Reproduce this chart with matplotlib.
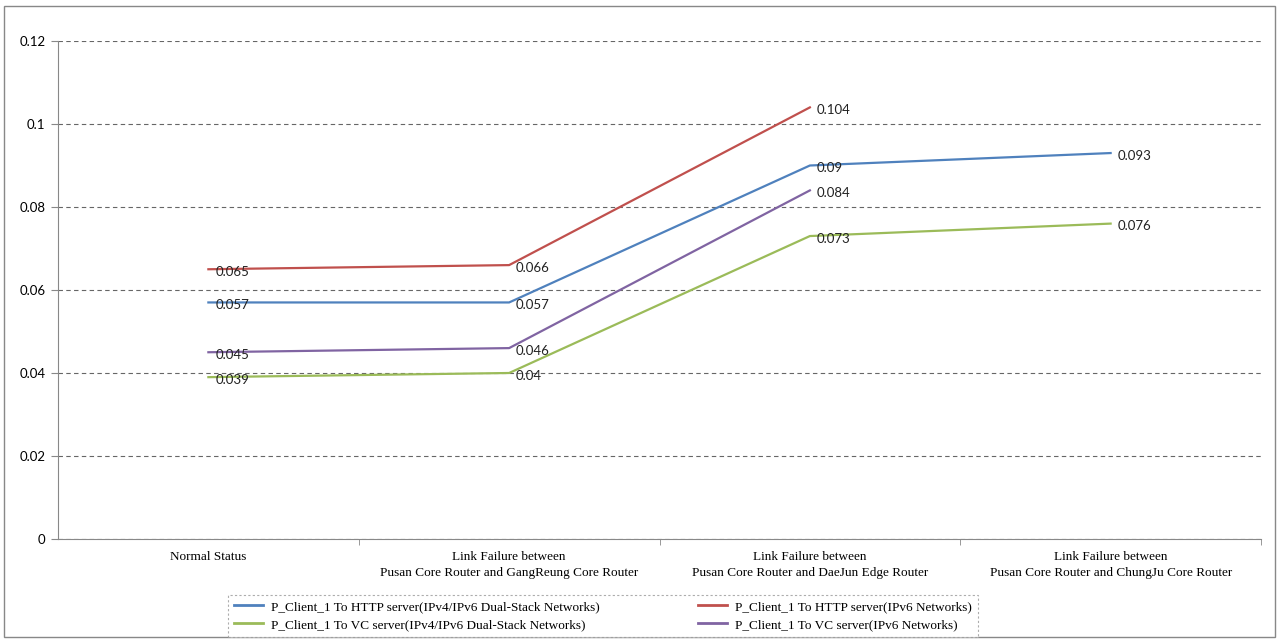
import matplotlib
matplotlib.use("Agg")
import matplotlib.pyplot as plt
from matplotlib.patches import Rectangle
import numpy as np

categories = [
    "Normal Status",
    "Link Failure between\nPusan Core Router and GangReung Core Router",
    "Link Failure between\nPusan Core Router and DaeJun Edge Router",
    "Link Failure between\nPusan Core Router and ChungJu Core Router",
]
http_dual = [0.057, 0.057, 0.09, 0.093]
http_v6 = [0.065, 0.066, 0.104, None]
vc_dual = [0.039, 0.04, 0.073, 0.076]
vc_v6 = [0.045, 0.046, 0.084, None]

series = [
    ("P_Client_1 To HTTP server(IPv4/IPv6 Dual-Stack Networks)", http_dual, "#4F81BD"),
    ("P_Client_1 To VC server(IPv4/IPv6 Dual-Stack Networks)", vc_dual, "#9BBB59"),
    ("P_Client_1 To HTTP server(IPv6 Networks)", http_v6, "#C0504D"),
    ("P_Client_1 To VC server(IPv6 Networks)", vc_v6, "#8064A2"),
]

fig = plt.figure(figsize=(12.79, 6.40), dpi=100)
ax = fig.add_axes([58 / 1279, 101 / 640, 1203 / 1279, 498 / 640])

x = np.arange(len(categories))
for label, vals, color in series:
    xs = [i for i, v in zip(x, vals) if v is not None]
    ys = [v for v in vals if v is not None]
    ax.plot(xs, ys, color=color, lw=1.6, label=label)
    for xi, yi in zip(xs, ys):
        ax.annotate(f"{yi:g}", (xi, yi), xytext=(5, -2), textcoords="offset points",
                    ha="left", va="center", fontsize=9.5, family="Lato", color="#222222")

ax.set_xlim(-0.5, len(categories) - 0.5)
ax.set_ylim(0, 0.12)
ax.set_yticks([0, 0.02, 0.04, 0.06, 0.08, 0.1, 0.12])
ax.set_yticklabels(["0", "0.02", "0.04", "0.06", "0.08", "0.1", "0.12"], family="Lato", fontsize=9.5)
ax.yaxis.grid(True, ls=(0, (4, 3)), color="#666666", lw=0.8)
ax.set_axisbelow(True)

ax.set_xticks(x)
ax.set_xticklabels(categories, family="Liberation Serif", fontsize=9.5, linespacing=1.35)
ax.set_xticks(np.arange(0.5, len(categories), 1.0), minor=True)
ax.tick_params(axis="x", which="major", length=0, pad=9)
ax.tick_params(axis="x", which="minor", length=4, color="#888888")
ax.tick_params(axis="y", length=5, color="#888888", pad=4)

for s in ["top", "right"]:
    ax.spines[s].set_visible(False)
for s in ["left", "bottom"]:
    ax.spines[s].set_color("#888888")

leg = fig.legend(loc="lower left", bbox_to_anchor=(228 / 1279, 3 / 640, 750 / 1279, 40 / 640),
                 mode="expand", ncol=2,
                 prop={"family": "Liberation Serif", "size": 9.5}, frameon=True,
                 fancybox=False, handlelength=2.2, handletextpad=0.6, columnspacing=4.2,
                 labelspacing=0.45, borderpad=0.45, borderaxespad=0)
leg.get_frame().set_edgecolor("#999999")
leg.get_frame().set_linestyle((0, (2, 2)))
leg.get_frame().set_linewidth(0.8)
for h in leg.get_lines():
    h.set_linewidth(2)

fig.patches.append(Rectangle((4 / 1279, 3 / 640), 1271 / 1279, 631 / 640, transform=fig.transFigure,
                             fill=False, edgecolor="#888888", lw=1))

fig.savefig("out.png", dpi=100)
